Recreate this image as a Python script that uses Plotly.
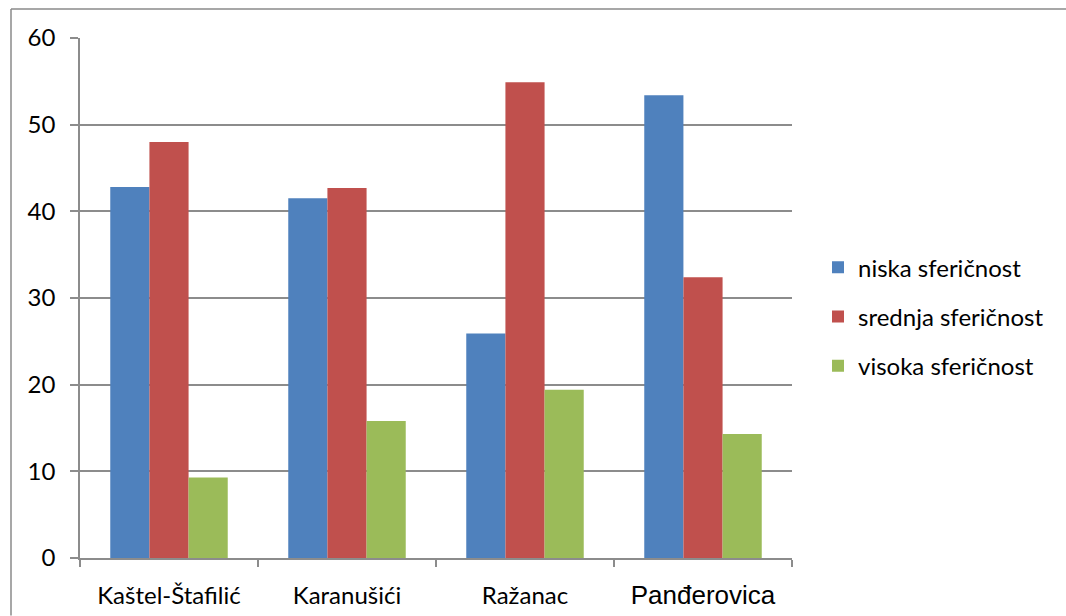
import plotly.graph_objects as go

# Sphericity shares (%) per locality
categories = ["Kaštel-Štafilić", "Karanušići", "Ražanac", "Panđerovica"]
niska = [42.8, 41.5, 25.9, 53.4]
srednja = [48.0, 42.7, 54.9, 32.4]
visoka = [9.3, 15.8, 19.4, 14.3]
series_names = ["niska sferičnost", "srednja sferičnost", "visoka sferičnost"]
y_ticks = [0, 10, 20, 30, 40, 50, 60]

colors = ["#4F81BD", "#C0504D", "#9BBB59"]
W, H = 1066, 616
L, R, T, B = 80, 792, 38, 558.5

# Last category label is set in a different typeface
tick_text = categories[:-1] + [
    '<span style="font-family:Liberation Sans, Arial;font-size:26px">' + categories[-1] + "</span>"
]

fig = go.Figure()
for name, vals, col in zip(series_names, [niska, srednja, visoka], colors):
    fig.add_trace(go.Bar(
        x=categories, y=vals, name=name,
        marker=dict(color=col, line=dict(width=0)),
        legendgroup=name,
    ))

def px_x(p):
    return (p - L) / (R - L)

def px_y(p):
    return (B - p) / (B - T)

grey = "#8c8c8c"
fig.update_layout(
    width=W, height=H,
    margin=dict(l=L, r=W - R, t=T, b=H - B, pad=0, autoexpand=False),
    paper_bgcolor="white", plot_bgcolor="white",
    barmode="group", bargap=0.34, bargroupgap=0,
    font=dict(family="Lato, Open Sans, sans-serif", size=23, color="black"),
    xaxis=dict(
        tickvals=categories, ticktext=tick_text, automargin=False,
        tickson="boundaries", ticks="outside", ticklen=7, tickwidth=1.5, tickcolor=grey,
        showline=True, linecolor=grey, linewidth=1.5,
        showgrid=False, tickfont=dict(size=24), ticklabelstandoff=15,
    ),
    yaxis=dict(
        range=[0, 60], tickvals=y_ticks, ticks="outside", ticklen=8, tickwidth=1.5,
        tickcolor=grey, showline=True, linecolor=grey, linewidth=1.5, automargin=False,
        showgrid=True, gridcolor=grey, gridwidth=1.5, zeroline=False,
        tickfont=dict(size=24), ticklabelstandoff=10,
    ),
    legend=dict(
        x=px_x(818), xanchor="left", y=px_y(317), yanchor="middle",
        font=dict(size=24), tracegroupgap=15, traceorder="grouped",
        bgcolor="rgba(0,0,0,0)",
    ),
    shapes=[
        dict(type="line", xref="paper", yref="paper",
             x0=px_x(11), x1=px_x(W), y0=px_y(9), y1=px_y(9),
             line=dict(color="#8a8a8a", width=1.5)),
        dict(type="line", xref="paper", yref="paper",
             x0=px_x(11), x1=px_x(11), y0=px_y(9), y1=px_y(H),
             line=dict(color="#8a8a8a", width=1.5)),
    ],
)

fig.write_html("out.html")
